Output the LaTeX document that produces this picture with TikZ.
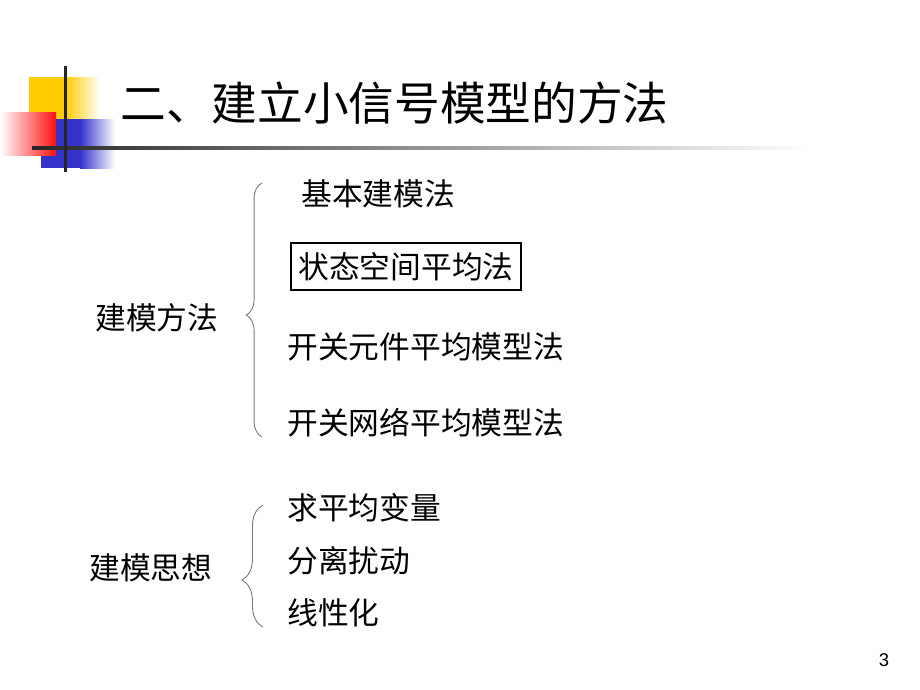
\documentclass[tikz,border=0pt]{standalone}
\usepackage{fontspec}
\setmainfont{Liberation Sans}
\newfontfamily\cjk{Noto Sans CJK SC}
\usetikzlibrary{decorations.pathreplacing,positioning}

\definecolor{decoyellow}{HTML}{FFCC00}
\definecolor{decoblue}{HTML}{3333CC}
\definecolor{decored}{HTML}{FF1010}
\definecolor{bracegray}{HTML}{777777}

\tikzset{
  item/.style={anchor=west, inner sep=0pt, font=\cjk\fontsize{17.5pt}{21pt}\selectfont},
  heading/.style={anchor=west, inner sep=0pt, font=\cjk\fontsize{26pt}{30pt}\selectfont},
  lbrace/.style={draw=bracegray, line width=0.5pt, decorate, decoration={brace, amplitude=#1}},
}

\begin{document}
\begin{tikzpicture}[x=0.02cm, y=-0.02cm]
\useasboundingbox (0,0) rectangle (920,690);

% corner decoration
\fill[decoyellow] (29,77) rectangle (65,120);
\shade[left color=decoyellow, right color=white] (65,77) rectangle (100,120);
\fill[decoblue] (41,119) rectangle (80,168);
\shade[left color=decoblue, right color=white] (80,119) rectangle (115,168);
\shade[left color=white, right color=decored] (0,112) rectangle (56,155);
\shade[left color=black!85, right color=white] (32,146.5) rectangle (810,149.5);
\fill[black!85] (63.5,66) rectangle (66.5,172);

% title
\node[heading] (title) at (120,103) {二、建立小信号模型的方法};

% modelling methods
\node[item] (meth) at (95,318) {建模方法};
\node[item] (m1) at (301,194) {基本建模法};
\node[draw, line width=0.6pt, inner sep=0pt, minimum width=4.6cm, minimum height=0.94cm,
      font=\cjk\fontsize{17.5pt}{21pt}\selectfont] (m2) at (406,266.5) {状态空间平均法};
\node[item] (m3) at (287,347) {开关元件平均模型法};
\node[item] (m4) at (287,423) {开关网络平均模型法};

\coordinate (b1s) at (262,437);
\coordinate (b1e) at (262,183);
\draw[lbrace=9pt, decoration={aspect=0.48}] (b1s) -- (b1e);

% modelling ideas
\node[item] (idea) at (89,568) {建模思想};
\node[item] (i1) at (287,508) {求平均变量};
\node[item] (i2) at (287,561) {分离扰动};
\node[item] (i3) at (287,613) {线性化};

\coordinate (b2s) at (263,627);
\coordinate (b2e) at (263,505);
\draw[lbrace=12pt, decoration={aspect=0.385}] (b2s) -- (b2e);

% page number
\node[inner sep=0pt, font=\fontsize{10.5pt}{12pt}\selectfont] (page) at (884,660) {3};
\end{tikzpicture}
\end{document}
